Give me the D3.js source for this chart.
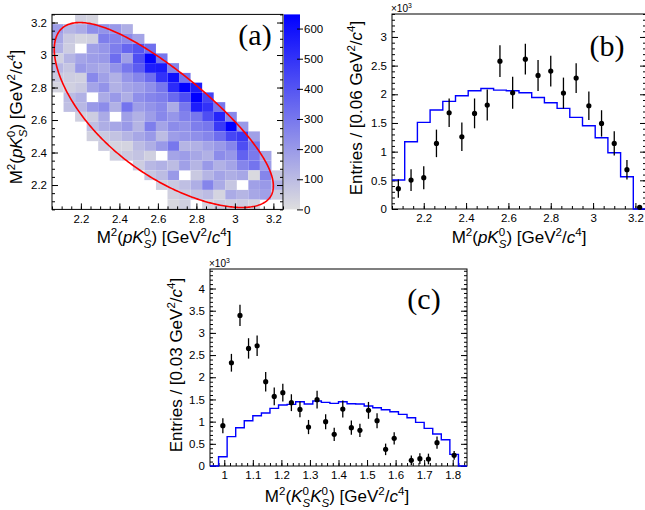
<!DOCTYPE html>
<html>
<head>
<meta charset="utf-8">
<script src="https://cdn.jsdelivr.net/npm/d3@7/dist/d3.min.js"></script>
<style>
  body { margin: 0; background: #fff; }
  text { font-family: "Liberation Sans", Arial, sans-serif; fill: #000; }
  .plab { font-family: "Liberation Serif", "Times New Roman", serif; }
</style>
</head>
<body>
<svg id="fig" width="645" height="510"></svg>
<script>
/* Dalitz plot of M2(pKs) vs M2(pKs) with its two 1D projections. */

// ---------- (a) 2D histogram, 0.06 x 0.06 GeV^2 cells ----------
const cellW = 0.06;
const dalitzX = [2.08, 2.14, 2.20, 2.26, 2.32, 2.38, 2.44, 2.50, 2.56, 2.62,
                 2.68, 2.74, 2.80, 2.86, 2.92, 2.98, 3.04, 3.10, 3.16, 3.22];
// rows listed from the top of the plot (3.22) downwards
const dalitzY = [3.22, 3.16, 3.10, 3.04, 2.98, 2.92, 2.86, 2.80, 2.74, 2.68,
                 2.62, 2.56, 2.50, 2.44, 2.38, 2.32, 2.26, 2.20, 2.14, 2.08];
const dalitzCounts = [
  [0, 0, 40, 25, 0, 0, 0, 0, 0, 0, 0, 0, 0, 0, 0, 0, 0, 0, 0, 0],
  [190, 120, 150, 230, 220, 200, 140, 0, 0, 0, 0, 0, 0, 0, 0, 0, 0, 0, 0, 0],
  [160, 60, 30, 40, 280, 260, 240, 170, 0, 0, 0, 0, 0, 0, 0, 0, 0, 0, 0, 0],
  [130, 50, 0, 180, 210, 280, 350, 400, 320, 0, 0, 0, 0, 0, 0, 0, 0, 0, 0, 0],
  [40, 120, 170, 190, 200, 330, 180, 420, 640, 300, 0, 0, 0, 0, 0, 0, 0, 0, 0, 0],
  [110, 70, 200, 170, 150, 220, 300, 380, 560, 570, 260, 0, 0, 0, 0, 0, 0, 0, 0, 0],
  [60, 50, 40, 250, 180, 130, 210, 260, 330, 500, 600, 300, 0, 0, 0, 0, 0, 0, 0, 0],
  [30, 40, 60, 170, 220, 130, 170, 190, 230, 300, 520, 640, 560, 0, 0, 0, 0, 0, 0, 0],
  [0, 100, 130, 0, 150, 200, 140, 230, 260, 280, 340, 420, 650, 450, 0, 0, 0, 0, 0, 0],
  [0, 90, 110, 200, 240, 130, 310, 190, 220, 250, 150, 300, 560, 500, 300, 0, 0, 0, 0, 0],
  [0, 0, 40, 50, 150, 0, 180, 130, 190, 250, 210, 270, 300, 420, 540, 250, 0, 0, 0, 0],
  [0, 0, 0, 90, 140, 160, 200, 120, 280, 170, 240, 220, 280, 300, 480, 650, 200, 0, 0, 0],
  [0, 0, 0, 40, 60, 80, 120, 160, 200, 100, 190, 210, 230, 260, 330, 440, 480, 180, 0, 0],
  [0, 0, 0, 0, 50, 30, 30, 100, 140, 200, 300, 120, 130, 170, 200, 260, 420, 300, 0, 0],
  [0, 0, 0, 0, 0, 40, 60, 80, 40, 0, 170, 190, 160, 130, 240, 210, 360, 290, 170, 0],
  [0, 0, 0, 0, 0, 0, 0, 50, 110, 130, 100, 180, 120, 200, 130, 170, 260, 310, 190, 0],
  [0, 0, 0, 0, 0, 0, 0, 0, 70, 100, 200, 0, 60, 120, 170, 140, 160, 15, 260, 60],
  [0, 0, 0, 0, 0, 0, 0, 0, 0, 40, 60, 90, 140, 260, 150, 70, 0, 180, 200, 130],
  [0, 0, 0, 0, 0, 0, 0, 0, 0, 0, 40, 60, 80, 100, 30, 150, 120, 160, 180, 50],
  [0, 0, 0, 0, 0, 0, 0, 0, 0, 0, 20, 40, 0, 30, 50, 40, 50, 30, 0, 0]
];
const zMax = 647;
const zTicks = [0, 100, 200, 300, 400, 500, 600];
const massTicks = [2.2, 2.4, 2.6, 2.8, 3.0, 3.2];

// kinematic limits for the red Dalitz boundary (GeV/c^2)
const mLc = 2.28646, mP = 0.93827, mK = 0.49761;

// ---------- (b) M2(pKs) projection ----------
const pkCentres = [2.08, 2.14, 2.20, 2.26, 2.32, 2.38, 2.44, 2.50, 2.56, 2.62,
                   2.68, 2.74, 2.80, 2.86, 2.92, 2.98, 3.04, 3.10, 3.16, 3.22];
const pkData = [354, 505, 546, 1144, 1678, 1260, 1667, 1812, 2578, 2027,
                2613, 2329, 2404, 2021, 2282, 1800, 1492, 1144, 685, 30];
const pkErr  = [160, 190, 200, 240, 250, 250, 260, 270, 275, 280,
                270, 270, 270, 270, 260, 250, 230, 210, 170, 30];
const pkMC   = [505, 1173, 1510, 1725, 1876, 1974, 2061, 2102, 2073, 2061,
                2027, 1945, 1852, 1754, 1597, 1452, 1243, 981, 563, 0];
const pkYTicks = [0, 500, 1000, 1500, 2000, 2500, 3000];

// ---------- (c) M2(KsKs) projection, 0.03 bins ----------
const kkW = 0.03;
const kkCentres = [0.965, 0.995, 1.025, 1.055, 1.085, 1.115, 1.145, 1.175, 1.205, 1.235,
                   1.265, 1.295, 1.325, 1.355, 1.385, 1.415, 1.445, 1.475, 1.505, 1.535,
                   1.565, 1.595, 1.625, 1.655, 1.685, 1.715, 1.745, 1.775, 1.805, 1.835];
const kkData = [null, 908, 2327, 3394, 2650, 2710, 1900, 1569, 1652, 1427,
                1276, 878, 1494, 999, 713, 1284, 863, 803, 1254, 1021,
                375, 623, null, 128, 165, 158, 526, null, 240, null];
const kkErr  = [0, 170, 200, 240, 230, 230, 220, 200, 200, 190,
                180, 160, 200, 170, 150, 190, 160, 150, 190, 170,
                130, 140, 0, 110, 120, 120, 140, 0, 100, 0];
const kkMC   = [0, 210, 661, 863, 1021, 1134, 1194, 1299, 1374, 1389,
                1449, 1396, 1464, 1434, 1411, 1449, 1404, 1396, 1351, 1314,
                1269, 1224, 1164, 1089, 984, 848, 721, 593, 263, 0];
const kkXTicks = [1, 1.1, 1.2, 1.3, 1.4, 1.5, 1.6, 1.7, 1.8];
const kkYTicks = [0, 500, 1000, 1500, 2000, 2500, 3000, 3500, 4000];

// ---------- layout ----------
const svg = d3.select("#fig");
const A = {l: 52, r: 283, t: 14.4, b: 209.4};
const B = {l: 392, r: 646, t: 14, b: 209};
const C = {l: 210, r: 467, t: 269, b: 466};
const TITLE = 17, TICK = 11.5;

const fmt = d3.format("~g");
const fmtK = (d) => fmt(d / 1000);

// text with super/subscripts; parts = [[text, flags]]
function richText(el, parts, size) {
  const small = size * 0.68;
  let shift = 0;
  parts.forEach(([t, st = ""]) => {
    const sup = st.includes("sup"), sub = st.includes("sub");
    const target = sup ? -size * 0.42 : sub ? size * 0.3 : 0;
    const ts = el.append("tspan").text(t).attr("font-size", sup || sub ? small : size);
    if (st.includes("it")) ts.attr("font-style", "italic");
    if (target !== shift) ts.attr("dy", target - shift);
    if (st.includes("back")) ts.attr("dx", -small * 0.556);
    shift = target;
  });
}

const titlePK = [["M"], ["2", "sup"], ["("], ["p", "it"], ["K", "it"], ["0", "sup"],
  ["S", "it sub back"], [")"], [" [GeV"], ["2", "sup"], ["/"], ["c", "it"], ["4", "sup"], ["]"]];
const titleKK = [["M"], ["2", "sup"], ["("], ["K", "it"], ["0", "sup"], ["S", "it sub back"],
  ["K", "it"], ["0", "sup"], ["S", "it sub back"], [")"], [" [GeV"], ["2", "sup"], ["/"],
  ["c", "it"], ["4", "sup"], ["]"]];
const entries = (w) => [["Entries / [" + w + " GeV"], ["2", "sup"], ["/"], ["c", "it"], ["4", "sup"], ["]"]];

function xTitle(x, y, parts) {
  richText(svg.append("text").attr("x", x).attr("y", y).attr("text-anchor", "middle"), parts, TITLE);
}
function yTitle(x, y, parts) {
  richText(svg.append("text").attr("transform", `translate(${x},${y}) rotate(-90)`)
    .attr("text-anchor", "middle"), parts, TITLE);
}

function styleAxis(g) {
  g.select(".domain").remove();
  g.selectAll(".tick line").attr("stroke", "#000").attr("stroke-width", 1);
  g.selectAll(".tick text").attr("font-size", TICK).attr("fill", "#000")
    .attr("font-family", "Liberation Sans, Arial, sans-serif");
}

// ROOT-like frame: ticks point inwards, mirrored on the right
function frame(P, x, y, o) {
  const g = svg.append("g");
  const bot = (vals, len, f) => g.append("g").attr("transform", `translate(0,${P.b})`)
    .call(d3.axisBottom(x).tickValues(vals).tickSize(-len).tickPadding(5).tickFormat(f)).call(styleAxis);
  const left = (vals, len, f) => g.append("g").attr("transform", `translate(${P.l},0)`)
    .call(d3.axisLeft(y).tickValues(vals).tickSize(-len).tickPadding(5).tickFormat(f)).call(styleAxis);
  const right = (vals, len) => g.append("g").attr("transform", `translate(${P.r},0)`)
    .call(d3.axisRight(y).tickValues(vals).tickSize(-len).tickFormat("")).call(styleAxis);
  bot(o.xMinor, 3, "");
  bot(o.xMajor, 6, o.xFmt);
  left(o.yMinor, 3, "");
  left(o.yMajor, 6, o.yFmt);
  right(o.yMinor, 3);
  right(o.yMajor, 6);
  g.append("rect").attr("x", P.l).attr("y", P.t).attr("width", P.r - P.l).attr("height", P.b - P.t)
    .attr("fill", "none").attr("stroke", "#000").attr("stroke-width", 1);
}

// ---------- panel (a) ----------
const xa = d3.scaleLinear([2.05, 3.25], [A.l, A.r]);
const ya = d3.scaleLinear([2.05, 3.25], [A.b, A.t]);
const za = d3.scaleLinear([0, zMax], [A.b, A.t]);
const zColor = d3.scaleLinear([0, zMax], ["#dedede", "#0000ff"]);

const cells = [];
dalitzCounts.forEach((row, i) => row.forEach((v, j) => {
  if (v > 0) cells.push({x: dalitzX[j], y: dalitzY[i], v});
}));
svg.append("g").selectAll("rect").data(cells).join("rect")
  .attr("x", (d) => xa(d.x - cellW / 2))
  .attr("y", (d) => ya(d.y + cellW / 2))
  .attr("width", (d) => xa(d.x + cellW / 2) - xa(d.x - cellW / 2))
  .attr("height", (d) => ya(d.y - cellW / 2) - ya(d.y + cellW / 2))
  .attr("fill", (d) => zColor(d.v));

// Dalitz boundary from 3-body kinematics
function dalitzBoundary() {
  const sLo = (mP + mK) ** 2, sHi = (mLc - mK) ** 2;
  const upper = [], lower = [];
  d3.range(0, 181).forEach((k) => {
    const s = (sLo + sHi) / 2 - (sHi - sLo) / 2 * Math.cos(Math.PI * k / 180);
    const m = Math.sqrt(s);
    const e2 = (s - mK * mK + mP * mP) / (2 * m);
    const e3 = (mLc * mLc - s - mK * mK) / (2 * m);
    const p2 = Math.sqrt(Math.max(0, e2 * e2 - mP * mP));
    const p3 = Math.sqrt(Math.max(0, e3 * e3 - mK * mK));
    const t = (e2 + e3) ** 2;
    upper.push([s, t - (p2 - p3) ** 2]);
    lower.push([s, t - (p2 + p3) ** 2]);
  });
  return upper.concat(lower.reverse());
}
svg.append("path")
  .attr("d", d3.line().x((d) => xa(d[0])).y((d) => ya(d[1]))(dalitzBoundary()) + "Z")
  .attr("fill", "none").attr("stroke", "#ff0000").attr("stroke-width", 1.6);

frame(A, xa, ya, {
  xMajor: massTicks, xMinor: d3.range(2.05, 3.26, 0.05), xFmt: fmt,
  yMajor: massTicks, yMinor: d3.range(2.05, 3.26, 0.05), yFmt: fmt
});

// colour bar
const grad = svg.append("defs").append("linearGradient").attr("id", "zgrad")
  .attr("x1", 0).attr("y1", 1).attr("x2", 0).attr("y2", 0);
[0, zMax].forEach((v) => grad.append("stop").attr("offset", v / zMax).attr("stop-color", zColor(v)));
svg.append("rect").attr("x", 284).attr("y", A.t).attr("width", 16).attr("height", A.b - A.t)
  .attr("fill", "url(#zgrad)");
svg.append("g").attr("transform", "translate(297,0)")
  .call(d3.axisRight(za).tickValues(zTicks).tickSize(6).tickPadding(1).tickFormat(fmt))
  .call(styleAxis);

xTitle(164, 243, titlePK);
yTitle(22, 117, titlePK);
svg.append("text").attr("class", "plab").attr("x", 255).attr("y", 45)
  .attr("text-anchor", "middle").attr("font-size", 30).text("(a)");

// ---------- 1D panels ----------
function histPanel(P, x, y, centres, w, mc, data, err, o) {
  frame(P, x, y, o);
  const steps = centres.map((c, i) => [c - w / 2, mc[i]]);
  steps.push([centres[centres.length - 1] + w / 2, mc[mc.length - 1]]);
  svg.append("path")
    .attr("d", d3.line().curve(d3.curveStepAfter).x((d) => x(d[0])).y((d) => y(d[1]))(steps))
    .attr("fill", "none").attr("stroke", "#0000ff").attr("stroke-width", 1.4);
  const pts = centres.map((c, i) => ({c, v: data[i], e: err[i]})).filter((d) => d.v != null);
  const g = svg.append("g");
  g.selectAll("line").data(pts).join("line")
    .attr("x1", (d) => x(d.c)).attr("x2", (d) => x(d.c))
    .attr("y1", (d) => y(Math.max(0, d.v - d.e))).attr("y2", (d) => y(d.v + d.e))
    .attr("stroke", "#000").attr("stroke-width", 1.3);
  g.selectAll("circle").data(pts).join("circle")
    .attr("cx", (d) => x(d.c)).attr("cy", (d) => y(d.v)).attr("r", 2.6).attr("fill", "#000");
  const ex = svg.append("text").attr("x", P.l - 1).attr("y", P.t - 2);
  richText(ex, [["\u00d710"], ["3", "sup"]], 10);
}

const xb = d3.scaleLinear([2.05, 3.25], [B.l, B.r]);
const yb = d3.scaleLinear([0, 3400], [B.b, B.t]);
histPanel(B, xb, yb, pkCentres, cellW, pkMC, pkData, pkErr, {
  xMajor: massTicks, xMinor: d3.range(2.05, 3.26, 0.05), xFmt: fmt,
  yMajor: pkYTicks, yMinor: d3.range(0, 3401, 100), yFmt: fmtK
});
xTitle(519, 243, titlePK);
yTitle(362, 108, entries("0.06"));
svg.append("text").attr("class", "plab").attr("x", 607).attr("y", 56)
  .attr("text-anchor", "middle").attr("font-size", 30).text("(b)");

const xc = d3.scaleLinear([0.95, 1.85], [C.l, C.r]);
const yc = d3.scaleLinear([0, 4440], [C.b, C.t]);
histPanel(C, xc, yc, kkCentres, kkW, kkMC, kkData, kkErr, {
  xMajor: kkXTicks, xMinor: d3.range(0.96, 1.85, 0.02), xFmt: fmt,
  yMajor: kkYTicks, yMinor: d3.range(0, 4441, 100), yFmt: fmtK
});
xTitle(337, 502, titleKK);
yTitle(182, 365, entries("0.03"));
svg.append("text").attr("class", "plab").attr("x", 424).attr("y", 309)
  .attr("text-anchor", "middle").attr("font-size", 30).text("(c)");
</script>
</body>
</html>
